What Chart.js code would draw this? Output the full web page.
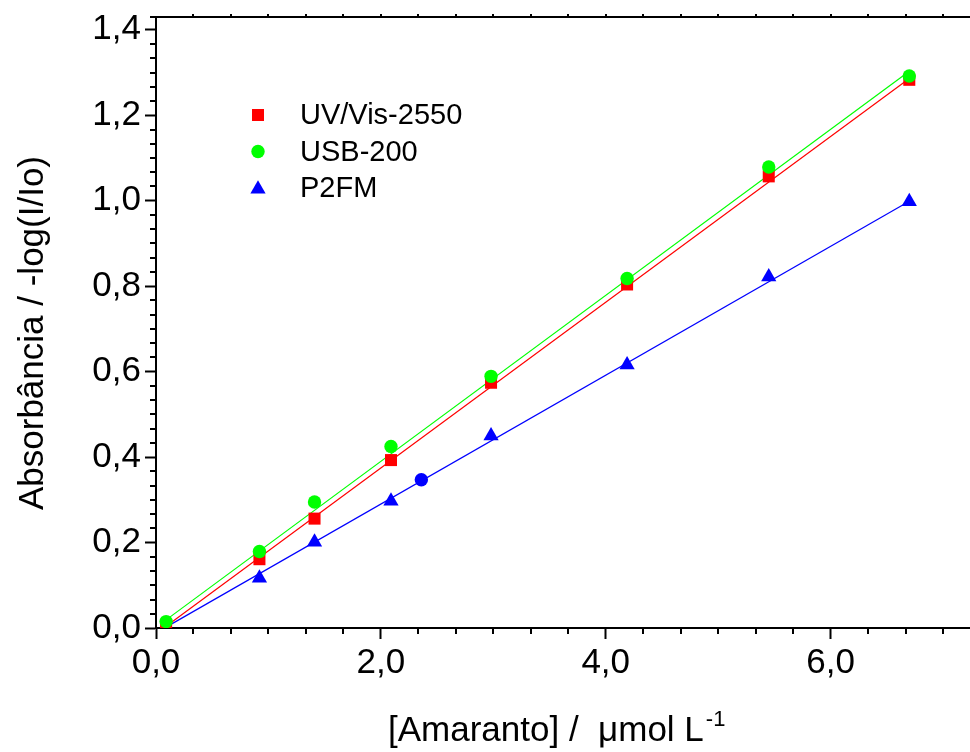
<!DOCTYPE html>
<html>
<head>
<meta charset="utf-8">
<script src="https://cdn.jsdelivr.net/npm/chart.js@4.4.1/dist/chart.umd.min.js"></script>
<style>
    html, body { margin: 0; padding: 0; background: #fff; }
    #wrap { width: 970px; height: 752px; position: relative; }
</style>
</head>
<body>
<div id="wrap"><canvas id="calibChart"></canvas></div>
<script>
// concentrations de amaranto (umol/L)
const conc = [0.09, 0.92, 1.41, 2.09, 2.98, 4.19, 5.45, 6.70];
const uvVis = [0.006, 0.161, 0.256, 0.393, 0.574, 0.804, 1.057, 1.283];
const usb200 = [0.015, 0.179, 0.295, 0.425, 0.589, 0.818, 1.079, 1.292];
const p2fm = [0.005, 0.117, 0.201, 0.297, 0.450, 0.616, 0.822, 0.998];

// amostra (circulo azul)
const sampleX = [2.36];
const sampleY = [0.347];

// retas de ajuste (extremos)
const fitX = [0.09, 6.70];
const fitUvVis = [0.004, 1.286];
const fitUsb200 = [0.019, 1.303];
const fitP2fm = [0.002, 0.999];

const xTicks = [0, 2, 4, 6];
const yTicks = [0, 0.2, 0.4, 0.6, 0.8, 1.0, 1.2, 1.4];

const legendLabels = ['UV/Vis-2550', 'USB-200', 'P2FM'];

const RED = '#ff0000';
const GREEN = '#00ff00';
const BLUE = '#0000ff';
const FONT = "'Liberation Sans', Arial, sans-serif";

function toPoints(xs, ys) {
    return xs.map(function (x, i) { return { x: x, y: ys[i] }; });
}

function fmt(v) {
    return v.toFixed(1).replace('.', ',');
}

function drawMarker(ctx, style, x, y, color) {
    ctx.fillStyle = color;
    ctx.beginPath();
    if (style === 'rect') {
        ctx.rect(x - 6, y - 6, 12, 12);
    } else if (style === 'circle') {
        ctx.arc(x, y, 6.7, 0, Math.PI * 2);
    } else {
        var r = 8.8;
        ctx.moveTo(x, y - r);
        ctx.lineTo(x + r * Math.sin(2 * Math.PI / 3), y + r / 2);
        ctx.lineTo(x - r * Math.sin(2 * Math.PI / 3), y + r / 2);
        ctx.closePath();
    }
    ctx.fill();
}

function noPadding(scale) {
    scale.paddingLeft = 0;
    scale.paddingRight = 0;
    scale.paddingTop = 0;
    scale.paddingBottom = 0;
}

// ticks menores, eixo superior, titulos e legenda
const decorations = {
    id: 'decorations',
    afterDraw: function (chart) {
        const ctx = chart.ctx;
        const xs = chart.scales.x;
        const ys = chart.scales.y;
        const area = chart.chartArea;
        ctx.save();
        ctx.strokeStyle = '#000';
        ctx.lineWidth = 2;
        ctx.beginPath();
        // eixo superior
        ctx.moveTo(area.left - 6, area.top);
        ctx.lineTo(area.right, area.top);
        for (let i = 1; i * 2 / 6 <= xs.max; i++) {
            const px = Math.round(xs.getPixelForValue(i * 2 / 6));
            if (i % 6 !== 0) {
                ctx.moveTo(px, area.bottom);
                ctx.lineTo(px, area.bottom + 6);
            }
            ctx.moveTo(px, area.top);
            ctx.lineTo(px, area.top - 3);
        }
        for (let j = 1; j * 0.2 / 6 <= ys.max; j++) {
            if (j % 6 === 0) continue;
            const py = Math.round(ys.getPixelForValue(j * 0.2 / 6));
            ctx.moveTo(area.left, py);
            ctx.lineTo(area.left - 6, py);
        }
        ctx.stroke();

        // titulo eixo y
        ctx.fillStyle = '#000';
        ctx.font = '35px ' + FONT;
        ctx.save();
        ctx.translate(43, 333);
        ctx.rotate(-Math.PI / 2);
        ctx.textAlign = 'center';
        ctx.textBaseline = 'alphabetic';
        ctx.fillText('Absorbância / -log(I/Io)', 0, 0);
        ctx.restore();

        // titulo eixo x com expoente
        ctx.textAlign = 'left';
        ctx.textBaseline = 'alphabetic';
        const mainTxt = '[Amaranto] /  \u03bcmol L';
        ctx.font = '35px ' + FONT;
        ctx.fillText(mainTxt, 388, 741);
        const w = ctx.measureText(mainTxt).width;
        ctx.font = '22px ' + FONT;
        ctx.fillText('-1', 388 + w + 2, 726);

        // legenda
        const styles = ['rect', 'circle', 'triangle'];
        const colors = [RED, GREEN, BLUE];
        const rows = [115, 151.5, 187.5];
        ctx.font = '29px ' + FONT;
        ctx.textBaseline = 'middle';
        for (let k = 0; k < legendLabels.length; k++) {
            drawMarker(ctx, styles[k], 258, rows[k] + (k === 2 ? 1.5 : 0), colors[k]);
            ctx.fillStyle = '#000';
            ctx.fillText(legendLabels[k], 300, rows[k] + 1);
        }
        ctx.restore();
    }
};

function setupChart() {
    try {
        var ctx = document.getElementById('calibChart').getContext('2d');
        var calibChart = new Chart(ctx, {
            type: 'scatter',
            data: {
                datasets: [
                    {
                        label: legendLabels[1],
                        data: toPoints(conc, usb200),
                        pointStyle: 'circle',
                        pointRadius: 6.7,
                        backgroundColor: GREEN,
                        borderColor: GREEN,
                        borderWidth: 0
                    },
                    {
                        label: legendLabels[0],
                        data: toPoints(conc, uvVis),
                        pointStyle: 'rect',
                        pointRadius: 8.5,
                        backgroundColor: RED,
                        borderColor: RED,
                        borderWidth: 0
                    },
                    {
                        label: legendLabels[2],
                        data: toPoints(conc, p2fm),
                        pointStyle: 'triangle',
                        pointRadius: 8.8,
                        backgroundColor: BLUE,
                        borderColor: BLUE,
                        borderWidth: 0
                    },
                    {
                        label: 'Amostra',
                        data: toPoints(sampleX, sampleY),
                        pointStyle: 'circle',
                        pointRadius: 6.7,
                        backgroundColor: BLUE,
                        borderColor: BLUE,
                        borderWidth: 0
                    },
                    {
                        label: 'Ajuste USB-200',
                        data: toPoints(fitX, fitUsb200),
                        showLine: true,
                        pointRadius: 0,
                        borderColor: GREEN,
                        borderWidth: 1.2
                    },
                    {
                        label: 'Ajuste UV/Vis-2550',
                        data: toPoints(fitX, fitUvVis),
                        showLine: true,
                        pointRadius: 0,
                        borderColor: RED,
                        borderWidth: 1.2
                    },
                    {
                        label: 'Ajuste P2FM',
                        data: toPoints(fitX, fitP2fm),
                        showLine: true,
                        pointRadius: 0,
                        borderColor: BLUE,
                        borderWidth: 1.2
                    }
                ]
            },
            options: {
                responsive: true,
                maintainAspectRatio: false,
                animation: false,
                layout: {
                    autoPadding: false,
                    padding: { top: 17, left: 0, right: 0, bottom: 0 }
                },
                plugins: {
                    legend: { display: false },
                    tooltip: { enabled: false }
                },
                scales: {
                    x: {
                        type: 'linear',
                        min: 0,
                        max: 7.24,
                        afterFit: function (scale) {
                            scale.height = 124;
                            noPadding(scale);
                        },
                        afterBuildTicks: function (scale) {
                            scale.ticks = xTicks.map(function (v) { return { value: v }; });
                        },
                        ticks: {
                            color: '#000',
                            padding: 3,
                            maxRotation: 0,
                            font: { family: FONT, size: 35 },
                            callback: function (v) { return fmt(v); }
                        },
                        grid: {
                            drawOnChartArea: false,
                            drawTicks: true,
                            tickLength: 11,
                            tickWidth: 2,
                            tickColor: '#000'
                        },
                        border: { display: true, color: '#000', width: 2 }
                    },
                    y: {
                        type: 'linear',
                        min: 0,
                        max: 1.43,
                        afterFit: function (scale) {
                            scale.width = 156;
                            noPadding(scale);
                        },
                        afterBuildTicks: function (scale) {
                            scale.ticks = yTicks.map(function (v) { return { value: v }; });
                        },
                        ticks: {
                            color: '#000',
                            padding: 4,
                            font: { family: FONT, size: 35 },
                            callback: function (v) { return fmt(v); }
                        },
                        grid: {
                            drawOnChartArea: false,
                            drawTicks: true,
                            tickLength: 11,
                            tickWidth: 2,
                            tickColor: '#000'
                        },
                        border: { display: true, color: '#000', width: 2 }
                    }
                }
            },
            plugins: [decorations]
        });
    } catch (error) {
        console.error('Erro ao criar o grafico: ', error);
    }
}

document.addEventListener('DOMContentLoaded', function () {
    setupChart();
});
</script>
</body>
</html>
